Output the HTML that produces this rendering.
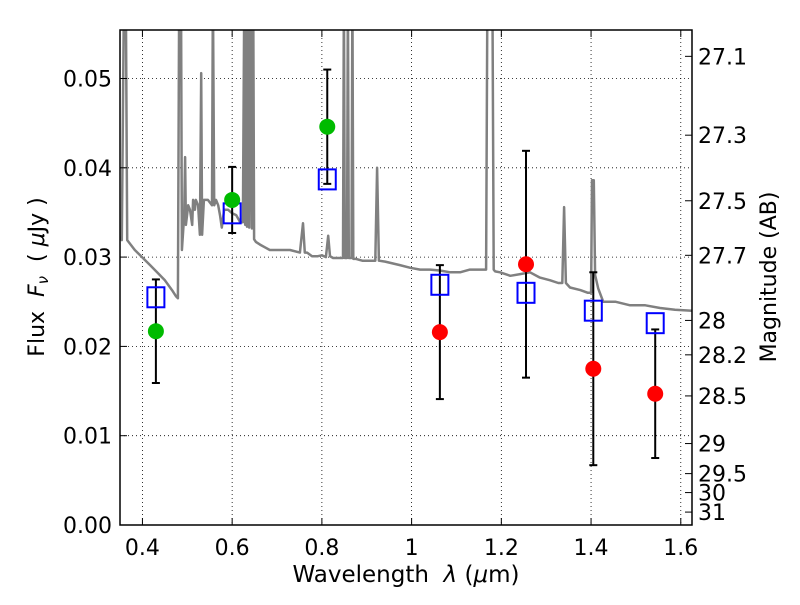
<!DOCTYPE html>
<html><head><meta charset="utf-8"><style>
body{margin:0;background:#fff}
svg text{font-family:"DejaVu Sans","Liberation Sans",sans-serif;fill:#000;white-space:pre}
</style></head><body>
<svg id="chart" width="800" height="600" xmlns="http://www.w3.org/2000/svg" xml:space="preserve">
<rect width="800" height="600" fill="#fff"/>
<g id="grid"></g>
<g id="spec"></g>
<g id="pts"></g>
<g id="axes"></g>
<text x="406" y="582" font-size="23" text-anchor="middle">Wavelength  <tspan font-style="italic">λ</tspan> (<tspan font-style="italic">μ</tspan>m)</text>
<text transform="translate(44,277) rotate(-90)" font-size="22" text-anchor="middle">Flux  <tspan font-style="italic">F<tspan font-size="15" dy="4">ν</tspan></tspan><tspan dy="-4">  ( <tspan font-style="italic">μ</tspan>Jy )</tspan></text>
<text transform="translate(776,277) rotate(-90)" font-size="22" text-anchor="middle">Magnitude (AB)</text>
</svg>
<script>
const xTicks=[0.4,0.6,0.8,1.0,1.2,1.4,1.6];
const xTickLabels=["0.4","0.6","0.8","1","1.2","1.4","1.6"];
const yTicks=[0,0.01,0.02,0.03,0.04,0.05];
const yTickLabels=["0.00","0.01","0.02","0.03","0.04","0.05"];
const magTicks=[27.1,27.3,27.5,27.7,28,28.2,28.5,29,29.5,30,31];
const magTickLabels=["27.1","27.3","27.5","27.7","28","28.2","28.5","29","29.5","30","31"];
const obsLam=[0.43,0.60,0.812,1.063,1.255,1.405,1.543];
const obsFlux=[0.0217,0.0364,0.0446,0.0216,0.0292,0.0175,0.0147];
const obsErr=[0.0058,0.0037,0.0064,0.0075,0.0127,0.0108,0.0072];
const obsColor=["#00bb00","#00bb00","#00bb00","red","red","red","red"];
const modelFlux=[0.0255,0.0349,0.0387,0.0269,0.0260,0.0240,0.0226];
const specLam=[
.350,.354,.359,.363,.366,.383,.417,.450,.466,.475,
.479,.482,.486,.488,.493,.495,.497,.502,.506,.511,
.513,.517,.519,.524,.528,.531,.533,.537,.546,.555,
.557,.560,.564,.569,.573,.577,.582,.591,.600,.609,
.618,.624,.627,.629,.631,.633,.635,.638,.641,.644,
.647,.649,.653,.662,.673,.684,.707,.729,.751,.758,
.762,.767,.778,.791,.800,.809,.814,.818,.825,.841,
.847,.849,.851,.856,.858,.860,.866,.868,.870,.876,
.890,.907,.919,.923,.927,.941,.974,.997,1.019,1.041,
1.063,1.086,1.108,1.130,1.153,1.166,1.169,1.180,1.183,1.186,
1.197,1.220,1.242,1.264,1.286,1.309,1.327,1.336,1.340,1.344,
1.353,1.376,1.393,1.400,1.402,1.406,1.409,1.416,1.427,1.454,
1.487,1.521,1.554,1.587,1.625];
const specFlux=[
.0323,.0319,.06,.06,.0319,.0308,.0291,.0274,.0263,.0256,
.0254,.06,.06,.0308,.0347,.0412,.0336,.0358,.0353,.0336,
.0364,.0353,.0364,.0358,.0325,.0506,.0325,.0364,.0364,.0358,
.06,.0358,.0364,.0358,.0347,.0333,.0353,.0353,.0349,.0347,
.0339,.0339,.06,.0336,.06,.0334,.06,.0333,.06,.0332,
.06,.0320,.0317,.0314,.0311,.0308,.0308,.0308,.0305,.0338,
.0305,.0305,.0301,.0301,.0302,.0300,.0324,.0301,.0299,.0299,
.0299,.06,.0299,.0299,.06,.0299,.0299,.06,.0298,.0298,
.0296,.0296,.0296,.0400,.0296,.0295,.0291,.0288,.0286,.0286,
.0285,.0283,.0283,.0286,.0286,.0286,.06,.06,.0286,.0284,
.0283,.0279,.0281,.0283,.0277,.0274,.0271,.0271,.0356,.0271,
.0266,.0263,.0260,.0260,.0386,.0386,.0280,.0265,.0250,.0250,
.0246,.0246,.0243,.0241,.0240];
const X0=120,X1=692,Y0=525,Y1=30,XMIN=0.35,XMAX=1.625,YMIN=0,YMAX=0.05543;
const xs=v=>X0+(v-XMIN)/(XMAX-XMIN)*(X1-X0);
const ys=v=>Y0-(v-YMIN)/(YMAX-YMIN)*(Y0-Y1);
const NS="http://www.w3.org/2000/svg";
function mk(tag,attrs,parent){const e=document.createElementNS(NS,tag);for(const k in attrs)e.setAttribute(k,attrs[k]);parent.appendChild(e);return e;}
const grid=document.getElementById('grid'),axes=document.getElementById('axes'),spec=document.getElementById('spec'),pts=document.getElementById('pts');
xTicks.forEach((t,i)=>{const x=xs(t);
 const g=mk('line',{x1:x,x2:x,y1:Y1,y2:Y0,stroke:'#000','stroke-width':0.8,'stroke-dasharray':'1,3'},grid);
 
 
 mk('line',{x1:x,x2:x,y1:Y0,y2:Y0-7,stroke:'#000','stroke-width':1},axes);
 mk('line',{x1:x,x2:x,y1:Y1,y2:Y1+7,stroke:'#000','stroke-width':1},axes);
 const tx=mk('text',{x:x,y:Y0+30,'font-size':22,'text-anchor':'middle'},axes);tx.textContent=xTickLabels[i];
 
 
});
yTicks.forEach((t,i)=>{const y=ys(t);
 const g=mk('line',{x1:X0,x2:X1,y1:y,y2:y,stroke:'#000','stroke-width':0.8,'stroke-dasharray':'1,3'},grid);
 
 
 mk('line',{x1:X0,x2:X0+7,y1:y,y2:y,stroke:'#000','stroke-width':1},axes);
 const tx=mk('text',{x:X0-8,y:y+8,'font-size':22,'text-anchor':'end'},axes);tx.textContent=yTickLabels[i];
 
 
});
magTicks.forEach((m,i)=>{const y=ys(Math.pow(10,(23.9-m)/2.5));
 mk('line',{x1:X1,x2:X1-7,y1:y,y2:y,stroke:'#000','stroke-width':1},axes);
 const tx=mk('text',{x:X1+6,y:y+8,'font-size':22},axes);tx.textContent=magTickLabels[i];
 
 
});
mk('clipPath',{id:'clip'},spec);
mk('rect',{x:X0,y:Y1,width:X1-X0,height:Y0-Y1},spec.lastChild);
let d='';specLam.forEach((l,i)=>{d+=(i?'L':'M')+xs(l).toFixed(1)+','+ys(specFlux[i]).toFixed(1);});
const sp=mk('path',{d:d,fill:'none',stroke:'#808080','stroke-width':2.5,'stroke-linejoin':'round','clip-path':'url(#clip)'},spec);


obsLam.forEach((l,i)=>{const x=xs(l);
 const yT=ys(obsFlux[i]+obsErr[i]),yB=ys(obsFlux[i]-obsErr[i]);
 const eb=mk('g',{},pts);
 
 
 mk('line',{x1:x,x2:x,y1:yT,y2:yB,stroke:'#000','stroke-width':2},eb);
 mk('line',{x1:x-4,x2:x+4,y1:yT,y2:yT,stroke:'#000','stroke-width':2},eb);
 mk('line',{x1:x-4,x2:x+4,y1:yB,y2:yB,stroke:'#000','stroke-width':2},eb);
 const sq=mk('rect',{x:x-8.5,y:ys(modelFlux[i])-10,width:17,height:20,fill:'none',stroke:'#0000ff','stroke-width':2},pts);
 
 
});
obsLam.forEach((l,i)=>{
 const c=mk('circle',{cx:xs(l),cy:ys(obsFlux[i]),r:8,fill:obsColor[i]},pts);
 
 
});
const fr=mk('rect',{x:X0,y:Y1,width:X1-X0,height:Y0-Y1,fill:'none',stroke:'#000','stroke-width':1.5},axes);


</script>
</body></html>
